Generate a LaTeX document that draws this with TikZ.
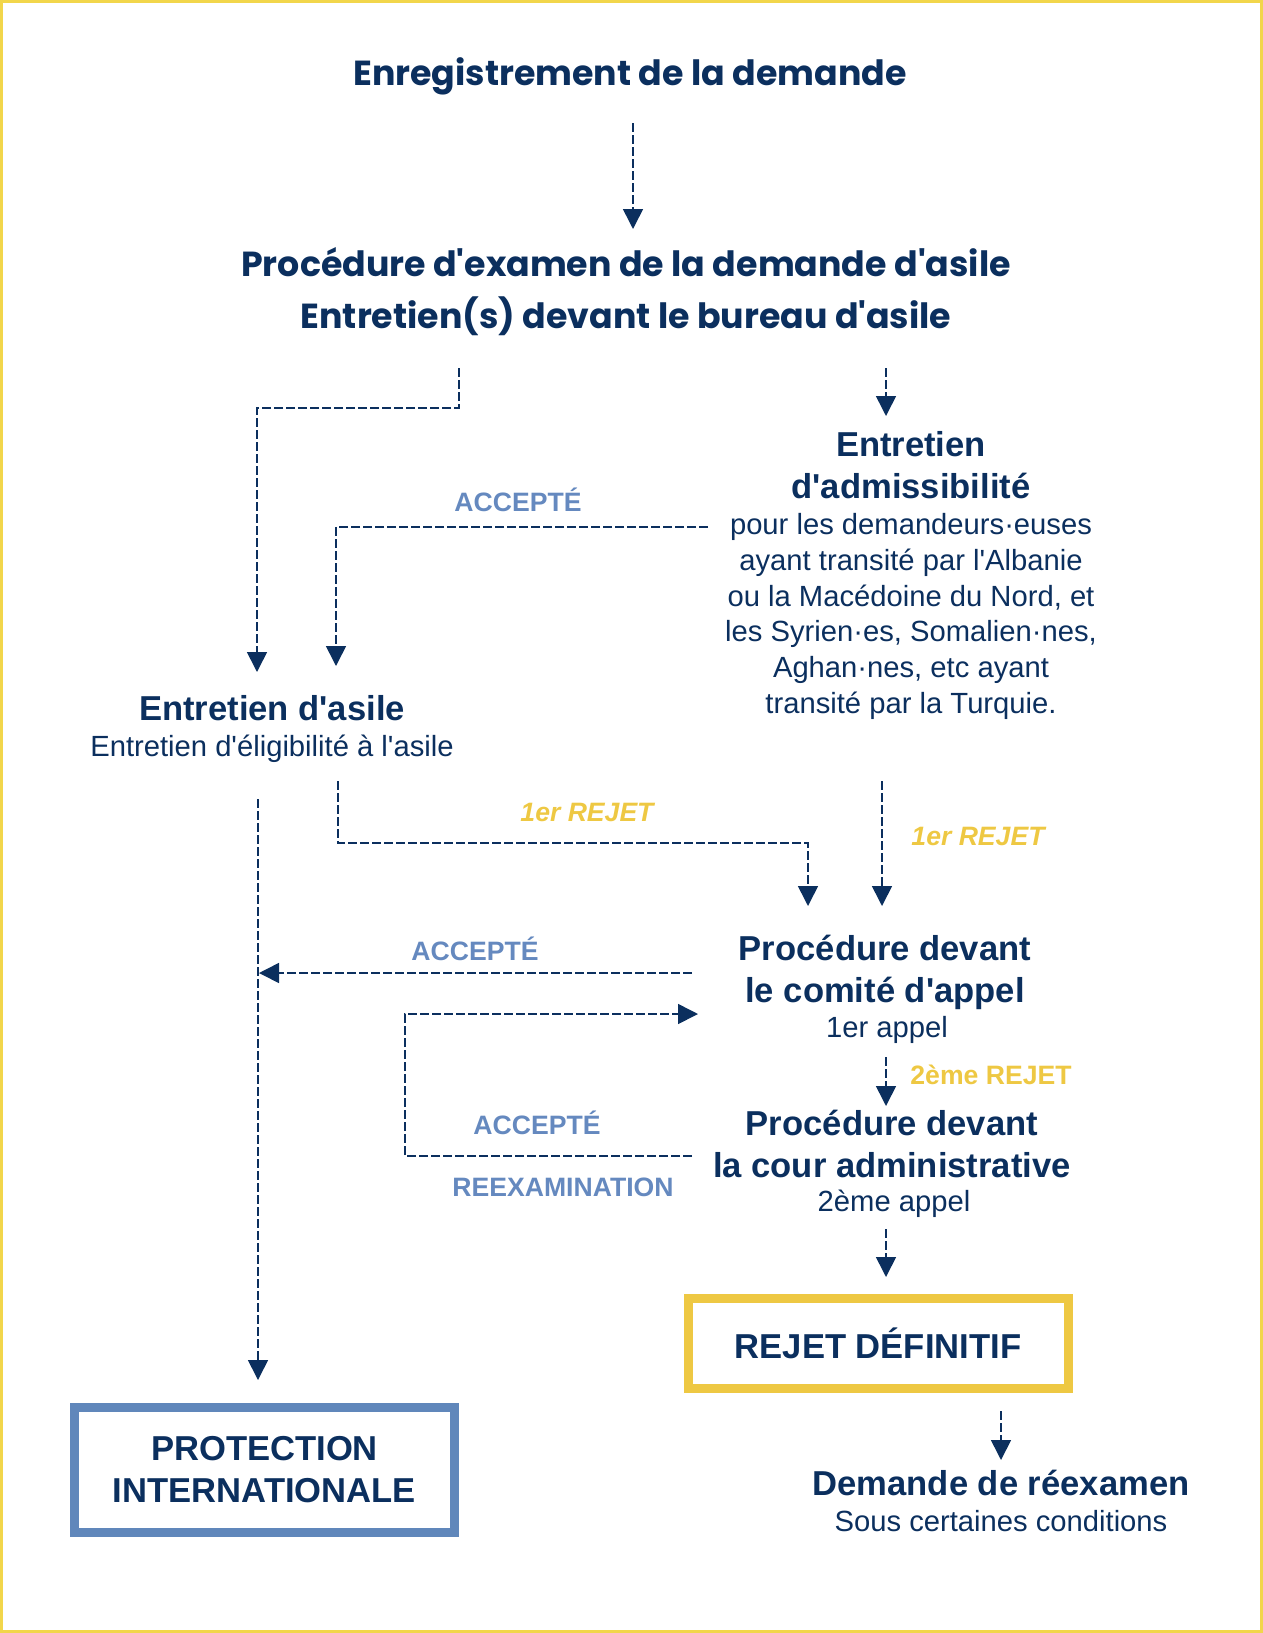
\documentclass[tikz,border=0pt]{standalone}
\usepackage{fontspec}
\setmainfont{Liberation Sans}[Ligatures=TeXOff]
\newfontfamily\headfont{Poppins}
\usepackage{tikz}
\usetikzlibrary{arrows.meta}
\definecolor{navy}{HTML}{0B2F5E}
\definecolor{lblue}{HTML}{6589BF}
\definecolor{gold}{HTML}{EEC843}
\definecolor{boxblue}{HTML}{6087BB}
\definecolor{frame}{HTML}{F2D64B}
\tikzset{
  head/.style={font=\headfont\bfseries\fontsize{17.4}{26}\selectfont, text=navy, align=center},
  title/.style={font=\bfseries\fontsize{17.3}{21}\selectfont, text=navy, align=center},
  sub/.style={font=\fontsize{14.6}{17.85}\selectfont, text=navy, align=center},
  lbl/.style={font=\bfseries\fontsize{13.3}{16}\selectfont, text=lblue},
  rej/.style={font=\bfseries\fontsize{13.3}{16}\selectfont, text=gold},
  flow/.style={draw=navy, line width=0.8pt, dash pattern=on 4.5pt off 1.5pt, -{Triangle[length=10pt,width=10pt]}},
  endbox/.style={draw=#1, line width=4.5pt, minimum width=190pt, inner sep=0pt}
}
\begin{document}
\begin{tikzpicture}[x=0.5pt, y=-0.5pt]
\useasboundingbox (0,0) rectangle (1263,1633);
\draw[frame, line width=1.5pt] (1.5,1.5) rectangle (1261.5,1631.5);

% texts
\node[head] (reg) at (630,76) {Enregistrement de la demande};
\node[head] (exam) at (626,292) {Procédure d'examen de la demande d'asile\\Entretien(s) devant le bureau d'asile};
\node[title] (adm) at (911,465.5) {Entretien\\d'admissibilité};
\node[sub] (admsub) at (911,616.5) {pour les demandeurs·euses\\ayant transité par l'Albanie\\ou la Macédoine du Nord, et\\les Syrien·es, Somalien·nes,\\Aghan·nes, etc ayant\\transité par la Turquie.};
\node[title] (asile) at (272,708) {Entretien d'asile};
\node[sub] (asilesub) at (272,749) {Entretien d'éligibilité à l'asile};
\node[title] (comite) at (885,972) {Procédure devant\\le comité d'appel};
\node[sub] (comitesub) at (887,1030) {1er appel};
\node[title] (cour) at (892,1144) {Procédure devant\\la cour administrative};
\node[sub] (coursub) at (894,1204) {2ème appel};
\node[title, endbox=gold, minimum height=45pt] (rejet) at (878,1343.5) {REJET DÉFINITIF};
\node[title] (reexam) at (1001,1483) {Demande de réexamen};
\node[sub] (reexamsub) at (1001,1521) {Sous certaines conditions};
\node[title, endbox=boxblue, minimum height=62.5pt] (protect) at (264.5,1470) {PROTECTION\\INTERNATIONALE};

% labels
\node[lbl] (acc1) at (518,500) {ACCEPTÉ};
\node[rej, font=\bfseries\itshape\fontsize{13.3}{16}\selectfont] (rej1) at (587,812) {1er REJET};
\node[rej, font=\bfseries\itshape\fontsize{13.3}{16}\selectfont] (rej2) at (978,836) {1er REJET};
\node[lbl] (acc2) at (475,949) {ACCEPTÉ};
\node[rej] (rej3) at (991,1075) {2ème REJET};
\node[lbl] (acc3) at (537,1123) {ACCEPTÉ};
\node[lbl] (reex) at (563,1187) {REEXAMINATION};

% connectors
\coordinate (a1) at (633,123);  \coordinate (b1) at (633,229);
\coordinate (a2) at (459,368);  \coordinate (b2) at (257,672);
\coordinate (a3) at (886,368);  \coordinate (b3) at (886,416);
\coordinate (a4) at (708,527);  \coordinate (b4) at (336,666);
\coordinate (a5) at (258,799);  \coordinate (b5) at (258,1380);
\coordinate (a6) at (338,781);  \coordinate (b6) at (808,906);
\coordinate (a7) at (882,781);  \coordinate (b7) at (882,906);
\coordinate (a8) at (692,973);  \coordinate (b8) at (259,973);
\coordinate (a9) at (692,1156); \coordinate (b9) at (698,1014);
\coordinate (a10) at (886,1057); \coordinate (b10) at (886,1106);
\coordinate (a11) at (886,1229); \coordinate (b11) at (886,1277);
\coordinate (a12) at (1001,1411); \coordinate (b12) at (1001,1460);

\draw[flow] (a1) -- (b1);
\draw[flow] (a2) |- (b2 |- 0,408) -- (b2);
\draw[flow] (a3) -- (b3);
\draw[flow] (a4) -| (b4);
\draw[flow] (a5) -- (b5);
\draw[flow] (a6) |- (b6 |- 0,843) -- (b6);
\draw[flow] (a7) -- (b7);
\draw[flow] (a8) -- (b8);
\draw[flow] (a9) -| (405,1014) -- (b9);
\draw[flow] (a10) -- (b10);
\draw[flow] (a11) -- (b11);
\draw[flow] (a12) -- (b12);
\end{tikzpicture}
\end{document}
